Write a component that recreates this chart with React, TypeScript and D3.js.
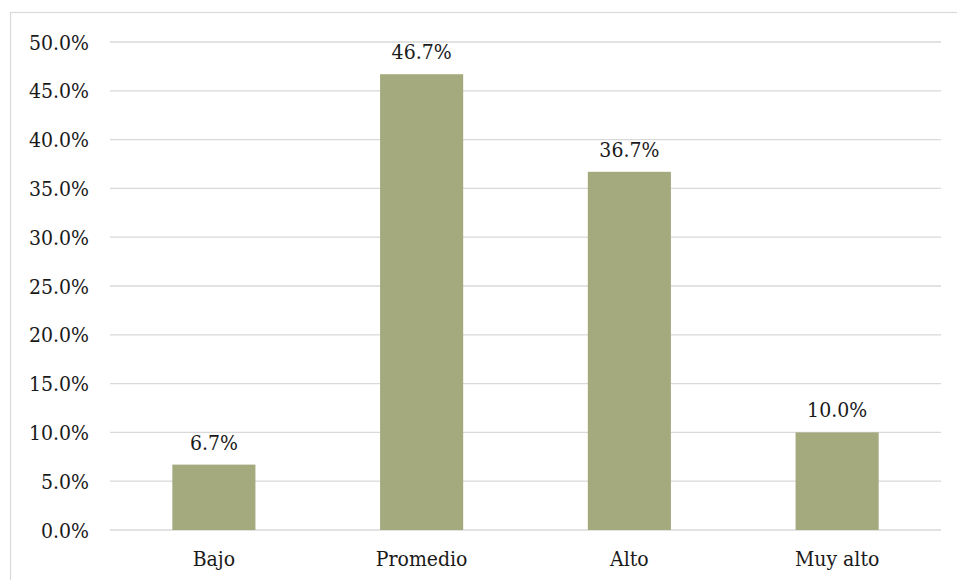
import React from "react";
import * as d3 from "d3";

const categories = ["Bajo", "Promedio", "Alto", "Muy alto"];
const values = [6.7, 46.7, 36.7, 10.0];
const yTicks = [0, 5, 10, 15, 20, 25, 30, 35, 40, 45, 50];

const W = 957;
const H = 580;
const plotLeft = 110;
const plotRight = 941;
const plotTop = 42;
const plotBottom = 530;
const textStyle: React.CSSProperties = {
  fontFamily: '"DejaVu Serif Condensed", "DejaVu Serif", serif',
  fontStretch: "condensed",
  fontSize: "21px",
};

export default function App() {
  const x = d3
    .scaleBand<string>()
    .domain(categories)
    .range([plotLeft, plotRight])
    .paddingInner(0.6)
    .paddingOuter(0.3);
  const y = d3.scaleLinear().domain([0, 50]).range([plotBottom, plotTop]);

  return (
    <svg
      width={W}
      height={H}
      style={{ position: "absolute", left: 0, top: 0, background: "#fff" }}
    >
      <rect x={10.5} y={12.5} width={W + 10} height={H + 10} fill="none" stroke="#D9D9D9" strokeWidth={1.2} />
      {yTicks.map((t) => (
        <g key={t}>
          <line x1={plotLeft} x2={plotRight} y1={y(t)} y2={y(t)} stroke="#D9D9D9" strokeWidth={1.3} />
          <text x={89} y={y(t)} dy="0.36em" textAnchor="end" style={textStyle} fill="#1a1a1a">
            {t.toFixed(1) + "%"}
          </text>
        </g>
      ))}
      {categories.map((c, i) => (
        <g key={c}>
          <rect
            x={x(c)}
            y={y(values[i])}
            width={x.bandwidth()}
            height={plotBottom - y(values[i])}
            fill="#A4AA7E"
          />
          <text
            x={(x(c) as number) + x.bandwidth() / 2}
            y={y(values[i]) - 15}
            textAnchor="middle"
            style={textStyle}
            fill="#1a1a1a"
          >
            {values[i].toFixed(1) + "%"}
          </text>
          <text
            x={(x(c) as number) + x.bandwidth() / 2}
            y={566}
            textAnchor="middle"
            style={textStyle}
            fill="#1a1a1a"
          >
            {c}
          </text>
        </g>
      ))}
    </svg>
  );
}
